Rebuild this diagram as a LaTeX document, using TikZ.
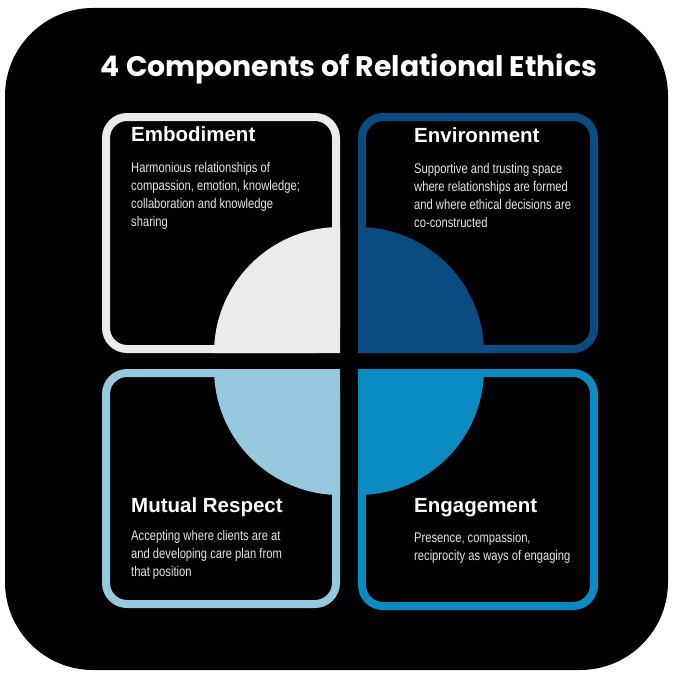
\documentclass[tikz,border=0pt]{standalone}
\usepackage{fontspec}
\setmainfont{Liberation Sans}
\newfontfamily\titlefont{Poppins}
\newfontfamily\bodyfont{Liberation Sans}[FakeStretch=0.8]
\definecolor{cTL}{HTML}{EBEBEB}
\definecolor{cTR}{HTML}{0B4C80}
\definecolor{cBL}{HTML}{96C9DE}
\definecolor{cBR}{HTML}{0A8CC2}
\definecolor{bodygray}{HTML}{E6E6E6}
\tikzset{
  card/.style={line width=8pt, rounded corners=21pt},
  head/.style={anchor=base west, inner sep=0pt, text=white, font=\bfseries\fontsize{20.5}{24}\selectfont},
  body/.style={anchor=north west, inner sep=0pt, align=left, text=bodygray, font=\bodyfont\fontsize{14}{18}\selectfont},
}
\begin{document}
\begin{tikzpicture}[x=1pt,y=-1pt]
\useasboundingbox (0,0) rectangle (675,677);
\fill[white] (0,0) rectangle (675,677);
\fill[black, rounded corners=88pt] (5,8) rectangle (668,670);
% cards
\draw[card, cTL] (106,117) rectangle (336,349);
\draw[card, cTR] (362,117) rectangle (594,349);
\draw[card, cBL] (106,373) rectangle (336,604);
\draw[card, cBR] (362,373) rectangle (594,606);
% quadrants
\fill[cTL] (340,353) -- (214,353) arc[start angle=180, end angle=90, radius=126pt] -- cycle;
\fill[cTR] (358,353) -- (358,227) arc[start angle=90, end angle=0, radius=126pt] -- cycle;
\fill[cBL] (340,369) -- (214,369) arc[start angle=180, end angle=270, radius=126pt] -- cycle;
\fill[cBR] (358,369) -- (484,369) arc[start angle=0, end angle=-90, radius=126pt] -- cycle;
% title
\node[anchor=base, inner sep=0pt, text=white, font=\titlefont\bfseries\fontsize{28.3}{32}\selectfont] (title) at (349,76) {4 Components of Relational Ethics};
% texts
\node[head] (h1) at (131,141) {Embodiment};
\node[body] (b1) at (131,162.5) {Harmonious relationships of\\compassion, emotion, knowledge;\\collaboration and knowledge\\sharing};
\node[head] (h2) at (414,142) {Environment};
\node[body] (b2) at (414,163.5) {Supportive and trusting space\\where relationships are formed\\and where ethical decisions are\\co-constructed};
\node[head] (h3) at (131,512) {Mutual Respect};
\node[body] (b3) at (131,530.5) {Accepting where clients are at\\and developing care plan from\\that position};
\node[head] (h4) at (414,512) {Engagement};
\node[body] (b4) at (414,532) {Presence, compassion,\\reciprocity as ways of engaging};
\end{tikzpicture}
\end{document}
